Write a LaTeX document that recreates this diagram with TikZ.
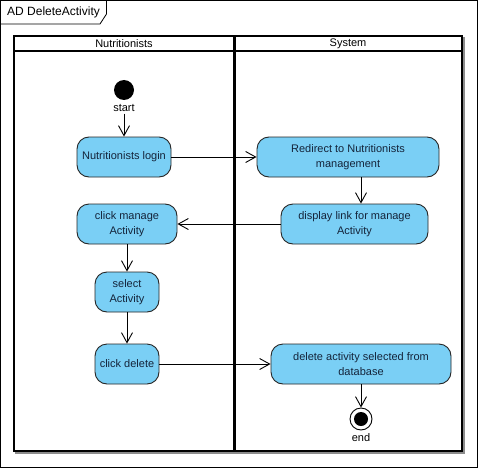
\documentclass[tikz,border=0pt]{standalone}
\usepackage{fontspec}
\setmainfont{Liberation Sans}
\usetikzlibrary{arrows.meta}
\definecolor{actfill}{HTML}{7ACFF5}
\definecolor{acttext}{HTML}{14243A}
\tikzset{
  activity/.style={draw=black!85, line width=0.9pt, fill=actfill, rounded corners=12pt,
    minimum height=40pt, inner sep=2pt, align=center, text=acttext,
    font=\fontsize{11}{15}\selectfont},
  flow/.style={draw=black, line width=0.9pt, -{Straight Barb[length=10pt,width=11pt,line width=0.9pt]}},
  lane/.style={draw=black, line width=2pt},
  lbl/.style={font=\fontsize{11}{13}\selectfont, inner sep=0pt},
}
\begin{document}
\begin{tikzpicture}[x=1pt,y=-1pt]
\useasboundingbox (0,0) rectangle (478,468);
% diagram frame and name tab
\draw[line width=0.8pt] (0.5,0.5) rectangle (477.5,467.5);
\draw[line width=0.8pt] (0.5,24) -- (100,24) -- (106.5,14) -- (106.5,0.5);
\node[anchor=west, inner sep=0pt, font=\fontsize{12}{14}\selectfont] (title) at (7,12.5) {AD DeleteActivity};

% swimlanes with shadow
\draw[line width=2pt, draw=black!45] (16,38) rectangle (464,453);
\draw[lane, fill=white] (14,36) rectangle (462,451);
\draw[lane] (14,51) -- (462,51);
\draw[line width=2.4pt] (234.5,36) -- (234.5,451);
\node[lbl] (laneA) at (124,44) {Nutritionists};
\node[lbl] (laneB) at (348,44) {System};

% initial node
\node[circle, fill=black, minimum size=20pt, inner sep=0pt] (start) at (124,90) {};
\node[lbl, anchor=north] (startlbl) at (124,104) {start};

% activities
\node[activity, minimum width=94pt] (login) at (124,157) {Nutritionists login};
\node[activity, minimum width=100pt] (manage) at (127,224) {click manage\\Activity};
\node[activity, minimum width=64pt] (select) at (127,292) {select\\Activity};
\node[activity, minimum width=64pt] (delete) at (127,364) {click delete};
\node[activity, minimum width=182pt] (redirect) at (348,157) {Redirect to Nutritionists\\management};
\node[activity, minimum width=147pt] (display) at (354.5,224) {display link for manage\\Activity};
\node[activity, minimum width=180pt] (deldb) at (361,364) {delete activity selected from\\database};

% final node
\node[circle, draw=black, line width=0.9pt, fill=white, minimum size=22pt, inner sep=0pt] (end) at (361,419) {};
\node[circle, fill=black, minimum size=14pt, inner sep=0pt] (endin) at (end.center) {};
\node[lbl, anchor=north] (endlbl) at (361,433) {end};

% control flows
\coordinate (rdx) at (361,0);
\draw[flow] (startlbl.south) ++(0,2) -- (login.north);
\draw[flow] (login.east) -- (redirect.west);
\draw[flow] (redirect.south -| rdx) -- (display.north -| rdx);
\draw[flow] (display.west) -- (manage.east);
\draw[flow] (manage.south) -- (select.north);
\draw[flow] (select.south) -- (delete.north);
\draw[flow] (delete.east) -- (deldb.west);
\draw[flow] (deldb.south) -- (end.north);
\end{tikzpicture}
\end{document}
